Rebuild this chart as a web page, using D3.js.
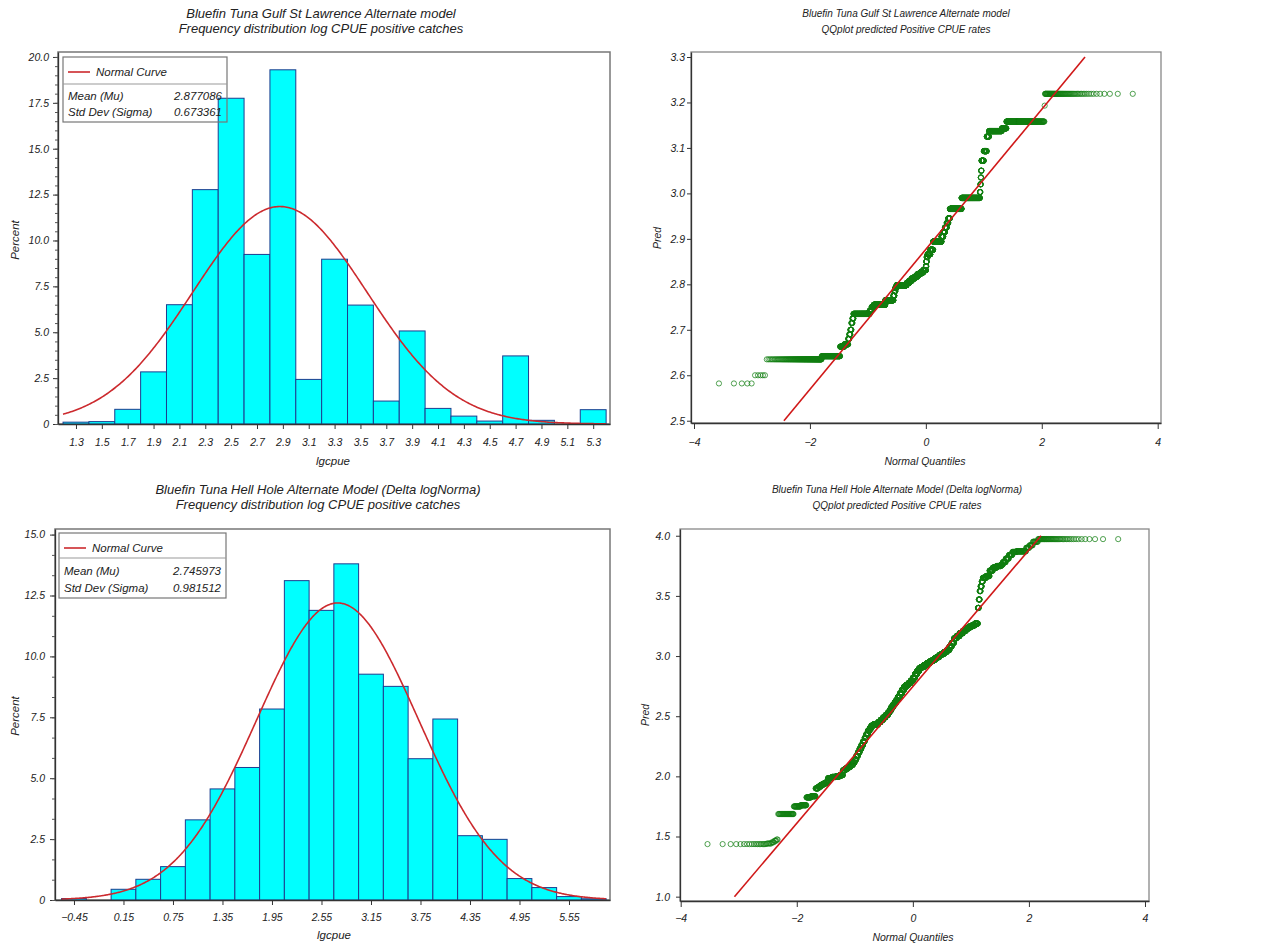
<!DOCTYPE html>
<html>
<head>
<meta charset="utf-8">
<script src="https://cdn.jsdelivr.net/npm/d3@7"></script>
<style>
  body { margin: 0; background: #fff; }
  text { font-family: "Liberation Sans", Arial, sans-serif; font-style: italic; fill: #222; }
</style>
</head>
<body>
<svg id="chart" width="1261" height="947"></svg>
<script>
// ---- data ----
// Gulf St Lawrence: histogram of lgcpue (bin width 0.2)
const gslMids = [1.3, 1.5, 1.7, 1.9, 2.1, 2.3, 2.5, 2.7, 2.9, 3.1, 3.3, 3.5, 3.7, 3.9, 4.1, 4.3, 4.5, 4.7, 4.9, 5.1, 5.3];
const gslPct  = [0.1, 0.13, 0.8, 2.84, 6.5, 12.77, 17.75, 9.24, 19.3, 2.43, 8.98, 6.48, 1.25, 5.07, 0.85, 0.43, 0.16, 3.71, 0.2, 0, 0.78];
const gslMean = 2.877086, gslSd = 0.673361;

// Hell Hole: histogram of lgcpue (bin width 0.3)
const hhMids = [-0.45, -0.15, 0.15, 0.45, 0.75, 1.05, 1.35, 1.65, 1.95, 2.25, 2.55, 2.85, 3.15, 3.45, 3.75, 4.05, 4.35, 4.65, 4.95, 5.25, 5.55, 5.85];
const hhPct  = [0.06, 0, 0.44, 0.85, 1.37, 3.29, 4.56, 5.44, 7.84, 13.11, 11.89, 13.8, 9.27, 8.77, 5.8, 7.43, 2.64, 2.49, 0.88, 0.51, 0.14, 0.05];
const hhMean = 2.745973, hhSd = 0.981512;

// predicted positive CPUE: [pred value, number of observations]
const gslPred = [
  [2.582, 5], [2.600, 5], [2.635, 116], [2.642, 117], [2.663, 36], [2.668, 36],
  [2.68, 11], [2.69, 11], [2.70, 11], [2.715, 11], [2.725, 11], [2.735, 211],
  [2.742, 30], [2.750, 33], [2.755, 203], [2.765, 160], [2.775, 20], [2.785, 20],
  [2.792, 25], [2.798, 222], [2.803, 60], [2.808, 60], [2.813, 70], [2.817, 60],
  [2.822, 70], [2.826, 70], [2.831, 66], [2.84, 10], [2.85, 10], [2.86, 22],
  [2.866, 65], [2.876, 68], [2.894, 197], [2.905, 40], [2.915, 40], [2.925, 40],
  [2.935, 35], [2.945, 35], [2.966, 247], [2.990, 326], [3.003, 8], [3.02, 6],
  [3.035, 5], [3.05, 6], [3.072, 34], [3.093, 42], [3.125, 31], [3.137, 150],
  [3.143, 45], [3.158, 217], [3.193, 1], [3.219, 70]
];
const hhPred = [
  [1.437, 18], [1.442, 5], [1.452, 3], [1.465, 3], [1.475, 2], [1.687, 31],
  [1.750, 20], [1.760, 21], [1.825, 20], [1.835, 22], [1.900, 15], [1.915, 15],
  [1.930, 15], [1.940, 16], [1.950, 16], [1.985, 30], [1.995, 35], [2.000, 35],
  [2.010, 31], [2.050, 25], [2.065, 30], [2.080, 30], [2.095, 29], [2.115, 22],
  [2.14, 22], [2.17, 22], [2.20, 23], [2.23, 25], [2.26, 24], [2.29, 25],
  [2.32, 24], [2.35, 27], [2.38, 27], [2.40, 26], [2.42, 27], [2.43, 89],
  [2.45, 46], [2.47, 46], [2.49, 46], [2.51, 46], [2.53, 33], [2.55, 33],
  [2.575, 34], [2.595, 34], [2.615, 33], [2.634, 33], [2.66, 43], [2.69, 43],
  [2.72, 44], [2.745, 44], [2.76, 47], [2.775, 48], [2.795, 47], [2.82, 45],
  [2.85, 44], [2.875, 44], [2.898, 45], [2.91, 58], [2.925, 58], [2.94, 59],
  [2.955, 49], [2.965, 49], [2.98, 49], [2.994, 49], [3.01, 45], [3.02, 45],
  [3.035, 46], [3.05, 46], [3.08, 39], [3.11, 39], [3.147, 39], [3.165, 49],
  [3.189, 49], [3.21, 45], [3.23, 44], [3.245, 36], [3.255, 36], [3.27, 36],
  [3.40, 10], [3.47, 10], [3.54, 10], [3.58, 12], [3.62, 12], [3.65, 32],
  [3.665, 32], [3.71, 28], [3.735, 30], [3.748, 32], [3.76, 11], [3.78, 18],
  [3.81, 18], [3.84, 18], [3.865, 18], [3.87, 37], [3.90, 10], [3.92, 9],
  [3.95, 12], [3.972, 48]
];

const svg = d3.select("#chart");

function normPdf(v, mu, sd) {
  return Math.exp(-0.5 * ((v - mu) / sd) ** 2) / (sd * Math.sqrt(2 * Math.PI));
}

// inverse normal cdf (Acklam)
function probit(p) {
  const a = [-39.69683028665376, 220.9460984245205, -275.9285104469687, 138.3577518672690, -30.66479806614716, 2.506628277459239];
  const b = [-54.47609879822406, 161.5858589980764, -155.6989798598866, 66.80131188771972, -13.28068155288572];
  const c = [-0.007784894002430293, -0.3223964580411365, -2.400758277161838, -2.549732539343734, 4.374664141464968, 2.938163982698783];
  const d = [0.007784695709041462, 0.3224671290700398, 2.445134137142996, 3.754408661907416];
  const lo = 0.02425;
  let q, r;
  if (p < lo) {
    q = Math.sqrt(-2 * Math.log(p));
    return (((((c[0]*q+c[1])*q+c[2])*q+c[3])*q+c[4])*q+c[5]) / ((((d[0]*q+d[1])*q+d[2])*q+d[3])*q+1);
  }
  if (p > 1 - lo) return -probit(1 - p);
  q = p - 0.5; r = q * q;
  return (((((a[0]*r+a[1])*r+a[2])*r+a[3])*r+a[4])*r+a[5])*q / (((((b[0]*r+b[1])*r+b[2])*r+b[3])*r+b[4])*r+1);
}

function styleAxis(g, fs) {
  g.attr("font-family", null).attr("font-size", null).attr("color", "#222");
  g.selectAll("text").style("font-size", fs + "px");
  g.select(".domain").attr("stroke", "#333").attr("stroke-width", 1.3);
  g.selectAll(".tick line").attr("stroke", "#333");
}

function titles(lines, cx, ys, fs) {
  lines.forEach((t, i) => {
    svg.append("text").attr("x", cx).attr("y", ys[i]).attr("text-anchor", "middle")
      .style("font-size", fs + "px").text(t);
  });
}

function histogram(c) {
  const g = svg.append("g");
  const x = d3.scaleLinear().domain(c.xDomain).range([c.left, c.right]);
  const y = d3.scaleLinear().domain(c.yDomain).range([c.bottom, c.top]);

  g.append("rect").attr("x", c.left).attr("y", c.top)
    .attr("width", c.right - c.left).attr("height", c.bottom - c.top)
    .attr("fill", "none").attr("stroke", "#777").attr("stroke-width", 1.5);

  const bars = c.mids.map((m, i) => ({ m, v: c.pct[i] })).filter(d => d.v > 0);
  g.selectAll("rect.bar").data(bars).join("rect").attr("class", "bar")
    .attr("x", d => x(d.m - c.bw / 2))
    .attr("width", d => x(d.m + c.bw / 2) - x(d.m - c.bw / 2))
    .attr("y", d => y(d.v))
    .attr("height", d => y(0) - y(d.v))
    .attr("fill", "#00ffff").attr("stroke", "#1d3d8f").attr("stroke-width", 1);

  const curve = d3.range(c.curveFrom, c.curveTo + 1e-9, 0.01)
    .map(v => [v, 100 * c.bw * normPdf(v, c.mean, c.sd)]);
  g.append("path").datum(curve)
    .attr("d", d3.line().x(d => x(d[0])).y(d => y(d[1])))
    .attr("fill", "none").attr("stroke", "#cc2a2e").attr("stroke-width", 1.6);

  // axes
  const ya = g.append("g").attr("transform", `translate(${c.left},0)`)
    .call(d3.axisLeft(y).tickValues(c.yTicks).tickSize(5).tickSizeOuter(0).tickPadding(c.yPad)
      .tickFormat(v => v === 0 ? "0" : d3.format(".1f")(v)));
  styleAxis(ya, c.tickFs);
  const ym = g.append("g").attr("transform", `translate(${c.left},0)`)
    .call(d3.axisLeft(y).tickValues(c.yMinor).tickSize(3).tickFormat(""));
  ym.select(".domain").remove();
  ym.selectAll(".tick line").attr("stroke", "#555");

  const xa = g.append("g").attr("transform", `translate(0,${c.bottom})`)
    .call(d3.axisBottom(x).tickValues(c.xTicks).tickSize(5).tickSizeOuter(0).tickPadding(c.xPad)
      .tickFormat(d3.format(c.xFmt)));
  styleAxis(xa, c.tickFs);

  g.append("text").attr("transform", `translate(${c.yLab[0]},${c.yLab[1]}) rotate(-90)`)
    .attr("text-anchor", "middle").style("font-size", c.labFs + "px").text("Percent");
  g.append("text").attr("x", c.xLab[0]).attr("y", c.xLab[1]).attr("text-anchor", "middle")
    .style("font-size", c.labFs + "px").text("lgcpue");

  // legend box
  const L = c.legend;
  const lg = g.append("g").attr("transform", `translate(${L.x},${L.y})`);
  lg.append("rect").attr("width", L.w).attr("height", L.h)
    .attr("fill", "none").attr("stroke", "#777").attr("stroke-width", 1.2);
  lg.append("line").attr("x1", 0).attr("x2", L.w).attr("y1", L.sep).attr("y2", L.sep)
    .attr("stroke", "#999");
  lg.append("line").attr("x1", 5).attr("x2", 27).attr("y1", L.rows[0] - 4).attr("y2", L.rows[0] - 4)
    .attr("stroke", "#cc2a2e").attr("stroke-width", 1.6);
  const fs = L.fs;
  lg.append("text").attr("x", 33).attr("y", L.rows[0]).style("font-size", fs + "px").text("Normal Curve");
  [["Mean (Mu)", c.mean], ["Std Dev (Sigma)", c.sd]].forEach((r, i) => {
    lg.append("text").attr("x", 5).attr("y", L.rows[i + 1]).style("font-size", fs + "px").text(r[0]);
    lg.append("text").attr("x", L.w - 5).attr("y", L.rows[i + 1]).attr("text-anchor", "end")
      .style("font-size", fs + "px").text(d3.format(".6f")(r[1]));
  });
}

function qqplot(c) {
  const g = svg.append("g");
  const x = d3.scaleLinear().domain(c.xDomain).range([c.left, c.right]);
  const y = d3.scaleLinear().domain(c.yDomain).range([c.bottom, c.top]);

  g.append("rect").attr("x", c.left).attr("y", c.top)
    .attr("width", c.right - c.left).attr("height", c.bottom - c.top)
    .attr("fill", "none").attr("stroke", "#888").attr("stroke-width", 1.3);

  // expand [value, count] into sorted observations with Blom normal scores
  const vals = [];
  c.pred.forEach(([v, k]) => { for (let j = 0; j < k; j++) vals.push(v); });
  const n = vals.length;
  const pts = vals.map((v, i) => [probit((i + 1 - 0.375) / (n + 0.25)), v]);

  g.append("g").selectAll("circle").data(pts).join("circle")
    .attr("cx", d => x(d[0])).attr("cy", d => y(d[1])).attr("r", 2.6)
    .attr("fill", "none").attr("stroke", "#0f7d0f").attr("stroke-width", 0.9)
    .attr("stroke-opacity", 0.8);

  // reference line mu + sigma * q, drawn over the tick range
  const [y0, y1] = c.lineRange;
  g.append("line")
    .attr("x1", x((y0 - c.mu) / c.sigma)).attr("y1", y(y0))
    .attr("x2", x((y1 - c.mu) / c.sigma)).attr("y2", y(y1))
    .attr("stroke", "#d01818").attr("stroke-width", 1.6);

  const ya = g.append("g").attr("transform", `translate(${c.left},0)`)
    .call(d3.axisLeft(y).tickValues(c.yTicks).tickSize(4).tickSizeOuter(0).tickPadding(c.yPad)
      .tickFormat(d3.format(".1f")));
  styleAxis(ya, c.tickFs);
  const xa = g.append("g").attr("transform", `translate(0,${c.bottom})`)
    .call(d3.axisBottom(x).tickValues(c.xTicks).tickSize(6).tickSizeOuter(0).tickPadding(c.xPad)
      .tickFormat(d3.format("d")));
  styleAxis(xa, c.tickFs);

  g.append("text").attr("transform", `translate(${c.yLab[0]},${c.yLab[1]}) rotate(-90)`)
    .attr("text-anchor", "middle").style("font-size", c.labFs + "px").text("Pred");
  g.append("text").attr("x", c.xLab[0]).attr("y", c.xLab[1]).attr("text-anchor", "middle")
    .style("font-size", c.labFs + "px").text("Normal Quantiles");
}

// ---- top left ----
titles(["Bluefin Tuna Gulf St Lawrence Alternate model", "Frequency distribution log CPUE positive catches"],
  321, [17.5, 33], 13);
histogram({
  left: 58, right: 610, top: 52, bottom: 424,
  xDomain: [1.161, 5.43], yDomain: [0, 20.27],
  mids: gslMids, pct: gslPct, bw: 0.2, mean: gslMean, sd: gslSd, curveFrom: 1.2, curveTo: 5.4,
  xTicks: gslMids, xFmt: ".1f", xPad: 10,
  yTicks: d3.range(0, 20.01, 2.5), yMinor: d3.range(0, 20.01, 0.5), yPad: 4,
  tickFs: 10.5, labFs: 11.5, yLab: [19, 240], xLab: [333, 465],
  legend: { x: 63, y: 57, w: 164, h: 65, sep: 27, rows: [19, 43, 59], fs: 11.5 }
});

// ---- top right ----
titles(["Bluefin Tuna Gulf St Lawrence Alternate model", "QQplot predicted Positive CPUE rates"],
  906, [17, 33], 10);
qqplot({
  left: 691, right: 1161, top: 52, bottom: 423,
  xDomain: [-4.052, 4.057], yDomain: [2.495, 3.311],
  pred: gslPred, mu: gslMean, sigma: 0.154, lineRange: [2.5, 3.3],
  xTicks: [-4, -2, 0, 2, 4], yTicks: d3.range(2.5, 3.301, 0.1), xPad: 10, yPad: 2,
  tickFs: 10.5, labFs: 10.5, yLab: [661, 238], xLab: [925, 465]
});

// ---- bottom left ----
titles(["Bluefin Tuna Hell Hole Alternate Model (Delta logNorma)", "Frequency distribution log CPUE positive catches"],
  318, [493.5, 509], 13);
histogram({
  left: 55, right: 610, top: 529, bottom: 900,
  xDomain: [-0.68, 6.047], yDomain: [0, 15.23],
  mids: hhMids, pct: hhPct, bw: 0.3, mean: hhMean, sd: hhSd, curveFrom: -0.6, curveTo: 6.0,
  xTicks: [-0.45, 0.15, 0.75, 1.35, 1.95, 2.55, 3.15, 3.75, 4.35, 4.95, 5.55], xFmt: ".2f", xPad: 9,
  yTicks: d3.range(0, 15.01, 2.5), yMinor: d3.range(0, 15.01, 2.5 / 3), yPad: 5,
  tickFs: 10.5, labFs: 11.5, yLab: [19, 716], xLab: [334, 939],
  legend: { x: 59, y: 533, w: 167, h: 65, sep: 25, rows: [19, 42, 59], fs: 11.5 }
});

// ---- bottom right ----
titles(["Bluefin Tuna Hell Hole Alternate Model (Delta logNorma)", "QQplot predicted Positive CPUE rates"],
  897, [493, 509], 10);
qqplot({
  left: 680, right: 1149, top: 529, bottom: 901,
  xDomain: [-4.012, 4.069], yDomain: [0.964, 4.056],
  pred: hhPred, mu: hhMean, sigma: 0.568, lineRange: [1.0, 4.0],
  xTicks: [-4, -2, 0, 2, 4], yTicks: d3.range(1.0, 4.001, 0.5), xPad: 8, yPad: 6,
  tickFs: 10.5, labFs: 10.5, yLab: [649, 715], xLab: [913, 941]
});
</script>
</body>
</html>
